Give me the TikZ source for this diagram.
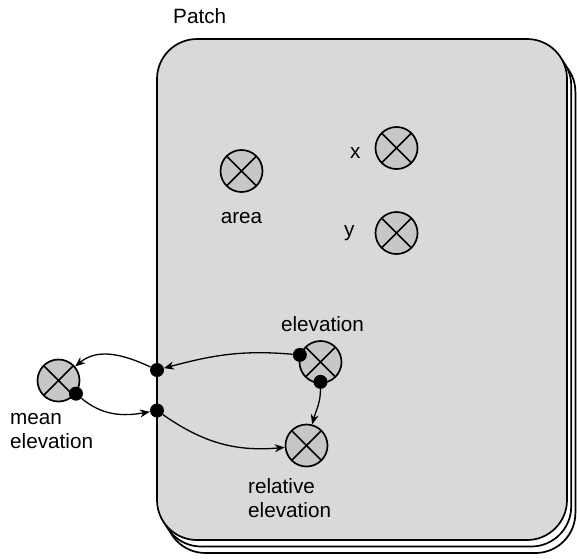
\documentclass[tikz,border=0pt]{standalone}
\usepackage{fontspec}
\setmainfont{Liberation Sans}
\usetikzlibrary{arrows.meta,positioning}
\definecolor{patchfill}{RGB}{217,217,217}
\definecolor{varfill}{RGB}{199,199,199}

\begin{document}
\begin{tikzpicture}[
    x=1pt, y=1pt,
    font=\fontsize{20.7}{23.5}\selectfont,
    patch/.style={draw, line width=1.7pt, rounded corners=40pt, fill=patchfill},
    sheet/.style={draw, line width=1.7pt, rounded corners=40pt, fill=white},
    var/.style={circle, draw, line width=1.7pt, fill=varfill, minimum size=42pt, inner sep=0pt,
        path picture={\draw[line width=1.7pt]
            (path picture bounding box.north west) -- (path picture bounding box.south east)
            (path picture bounding box.north east) -- (path picture bounding box.south west);}},
    port/.style={circle, fill=black, minimum size=14pt, inner sep=0pt},
    lbl/.style={inner sep=0pt, align=left},
    arr/.style={-{Stealth[length=10pt, width=8pt]}, line width=1.3pt}
]
    \useasboundingbox (0,0) rectangle (577,-558);

    % stacked patches
    \draw[sheet] (165.4,-52) rectangle (575.4,-553);
    \draw[sheet] (161.2,-45.5) rectangle (571.2,-546.5);
    \draw[patch] (157,-39) rectangle (567,-540);
    \node[lbl, anchor=base west] (patchlbl) at (173,-23) {Patch};

    % variables
    \node[var] (area) at (241.5,-171) {};
    \node[var] (xc) at (396.5,-148) {};
    \node[var] (yc) at (396.5,-233) {};
    \node[var] (elev) at (320.5,-362) {};
    \node[var] (mean) at (58.5,-380.5) {};
    \node[var] (rel) at (306.5,-445.5) {};

    \node[lbl, below=31pt of area, anchor=base] (arealbl) {area};
    \node[lbl, left=14pt of xc, anchor=base east, yshift=-10pt] (xlbl) {x};
    \node[lbl, left=20pt of yc, anchor=base east, yshift=-3pt] (ylbl) {y};
    \node[lbl, above=9pt of elev, anchor=base, xshift=2pt] (elevlbl) {elevation};
    \node[lbl, anchor=base west] (meanlbl) at (10,-448) {mean\\elevation};
    \node[lbl, anchor=base west] (rellbl) at (248,-517) {relative\\elevation};

    % ports
    \node[port] (p1) at (157,-370) {};
    \node[port] (p2) at (157,-410.5) {};
    \node[port] (md) at (mean.-37) {};
    \node[port] (ed1) at (elev.161) {};
    \node[port, yshift=2pt] (ed2) at (elev.-90) {};

    % flows
    \draw[arr] (p1) to[out=155, in=40] (mean);
    \draw[arr] (md) to[out=-40, in=190] (p2);
    \draw[arr] (ed1) to[out=175, in=15] (p1);
    \draw[arr] (ed2) to[out=-90, in=75] (rel);
    \draw[arr] (p2) to[out=-35, in=185] (rel);
\end{tikzpicture}
\end{document}
